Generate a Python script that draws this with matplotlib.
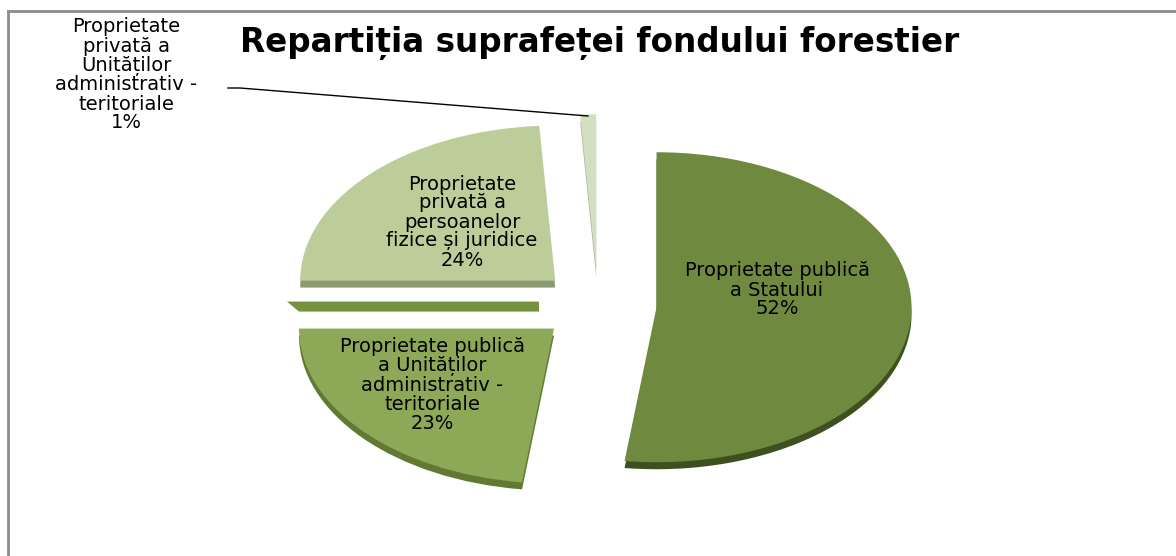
import numpy as np
import matplotlib
matplotlib.use("Agg")
import matplotlib.pyplot as plt
from matplotlib.patches import Polygon

# ---- data ----
categories = [
    "Proprietate publică\na Statului",
    "Proprietate publică\na Unităților\nadministrativ -\nteritoriale",
    "Proprietate\nprivată a\npersoanelor\nfizice și juridice",
    "Proprietate\nprivată a\nUnităților\nadministrativ -\nteritoriale",
]
values = [52, 23, 24, 1]
colors = ["#6F8A3F", "#8DA856", "#BDCD99", "#D3DFC2"]
side_colors = ["#3E5020", "#617933", "#8B9A72", "#A9B898"]
band_color = "#76923F"
title = "Repartiția suprafeței fondului forestier"

W, H = 1176, 556
fig = plt.figure(figsize=(W / 100, H / 100), dpi=100)
ax = fig.add_axes([0, 0, 1, 1])

# pixel geometry of the pie
cx_px, cy_px = 598, 305
rx_px, ry_px = 255, 155
explode = [0.23] * len(values)
depth = 7 / ry_px

# side (thickness) of the 3D pie
ax.pie(values, colors=side_colors, startangle=90, counterclock=False,
       explode=explode, center=(0, -depth), radius=1,
       wedgeprops=dict(linewidth=0))

# extra side face of the 23% slice (visible band between slices)
total = sum(values)
angles = np.cumsum([0] + values) / total * 360
start = 90 - angles[1]
end = 90 - angles[2]
mid = np.deg2rad((start + end) / 2)
apex = np.array([explode[1] * np.cos(mid), explode[1] * np.sin(mid)])
edge_end = apex + np.array([np.cos(np.deg2rad(end)), np.sin(np.deg2rad(end))])
lift_lo, lift_hi = 17 / ry_px, 27 / ry_px
band = Polygon([
    (apex[0] - 15 / rx_px, apex[1] + lift_lo),
    (edge_end[0], edge_end[1] + lift_lo),
    (edge_end[0] - 12 / rx_px, edge_end[1] + lift_hi),
    (apex[0] - 15 / rx_px, apex[1] + lift_hi),
], closed=True, facecolor=band_color, edgecolor="none")
ax.add_patch(band)

# top faces
wedges, _ = ax.pie(values, colors=colors, startangle=90, counterclock=False,
                   explode=explode, center=(0, 0), radius=1,
                   wedgeprops=dict(linewidth=0))

ax.set_aspect("auto")
ax.set_xlim(-cx_px / rx_px, (W - cx_px) / rx_px)
ax.set_ylim(-(H - cy_px) / ry_px, cy_px / ry_px)
ax.axis("off")


def px(x, y):
    return ((x - cx_px) / rx_px, (cy_px - y) / ry_px)


lab_font = dict(family="DejaVu Sans", fontsize=14, color="black",
                ha="center", va="center", linespacing=1.0)
label_px = [(777, 290), (432, 385), (462, 222)]
for i, (x, y) in enumerate(label_px):
    ax.text(*px(x, y), f"{categories[i]}\n{values[i]}%", **lab_font)

# small slice: outside label with leader line
ax.text(*px(126, 75), f"{categories[3]}\n{values[3]}%", **lab_font)
ax.plot(*zip(px(228, 88), px(240, 88), px(588, 116)), color="black", lw=1)

# title
fig.text(600 / W, 1 - 43 / H, title, fontsize=23.5, fontweight="bold",
         family="DejaVu Sans", ha="center", va="center", color="black")

# chart border (left & top visible)
fig.add_artist(plt.Line2D([8 / W, 8 / W], [0, 1 - 11 / H],
                          transform=fig.transFigure, color="#8C8C8C", lw=2))
fig.add_artist(plt.Line2D([8 / W, 1], [1 - 11 / H, 1 - 11 / H],
                          transform=fig.transFigure, color="#8C8C8C", lw=2))

fig.savefig("out.png", dpi=100)
